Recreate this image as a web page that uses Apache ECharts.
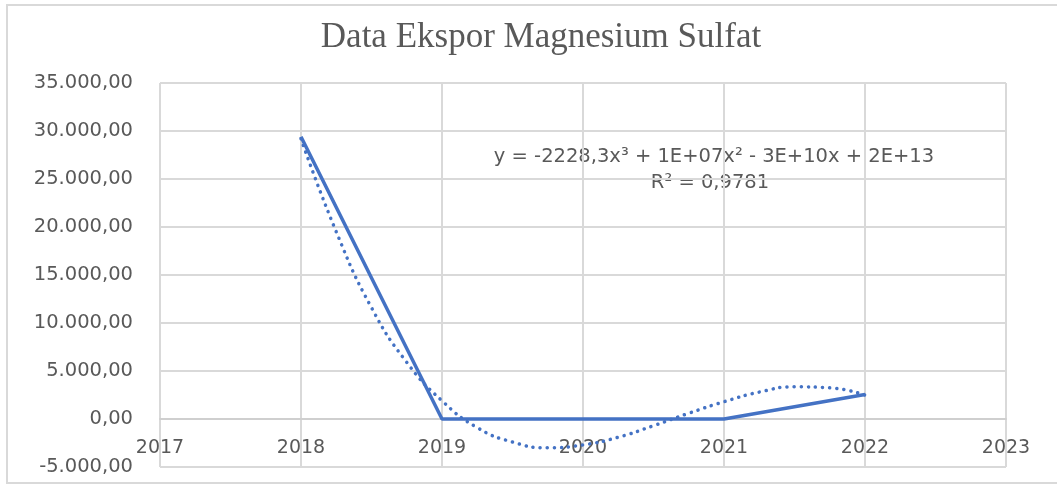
<!DOCTYPE html>
<html>
<head>
<meta charset="utf-8">
<script src="https://cdn.jsdelivr.net/npm/echarts@6/dist/echarts.min.js"></script>
<style>
  html, body { margin: 0; padding: 0; background: #fff; }
  #chart { width: 1057px; height: 486px; }
</style>
</head>
<body>
<div id="chart"></div>
<script>
// data
const years = [2018, 2019, 2020, 2021, 2022];
const ekspor = [29400, 0, 0, 0, 2550];

// dotted trend line (poly. order 3)
const trendX = [2018, 2018.25, 2018.5, 2018.75, 2019, 2019.25, 2019.5, 2019.75, 2020,
  2020.25, 2020.5, 2020.75, 2021, 2021.25, 2021.5, 2021.75, 2022];
const trendY = [29200, 19500, 11600, 5900, 1900, -900, -2400, -3000, -2700,
  -1900, -700, 600, 1800, 2800, 3350, 3250, 2500];

const titleText = "Data Ekspor Magnesium Sulfat";
const eqText = "y = -2228,3x³ + 1E+07x² - 3E+10x + 2E+13";
const r2Text = "R² = 0,9781";

const blue = "#4472C4";
const grey = "#595959";
const gridColor = "#d9d9d9";

function fmtId(v) {
  // 35000 -> 35.000,00
  const neg = v < 0;
  let s = Math.abs(v).toFixed(0).replace(/\B(?=(\d{3})+(?!\d))/g, ".");
  return (neg ? "-" : "") + s + ",00";
}

const chart = echarts.init(document.getElementById("chart"));
chart.setOption({
  animation: false,
  backgroundColor: "#fff",
  title: {
    text: titleText,
    left: 536,
    textAlign: "center",
    top: 15,
    textStyle: {
      fontFamily: "Liberation Serif",
      fontWeight: "normal",
      fontSize: 35,
      color: grey
    }
  },
  grid: { left: 160, right: 51, top: 83, bottom: 19, containLabel: false, outerBoundsMode: "none" },
  graphic: [
    {
      type: "rect",
      shape: { x: 7, y: 5, width: 1100, height: 478 },
      style: { fill: "none", stroke: "#d9d9d9", lineWidth: 2 },
      silent: true
    },
    {
      type: "text",
      style: { x: 714, y: 157, text: eqText, font: "19.5px 'DejaVu Sans'", fill: grey,
        align: "center", verticalAlign: "middle" }
    },
    {
      type: "text",
      style: { x: 710, y: 183, text: r2Text, font: "19.5px 'DejaVu Sans'", fill: grey,
        align: "center", verticalAlign: "middle" }
    }
  ],
  xAxis: {
    type: "value",
    min: 2017,
    max: 2023,
    interval: 1,
    axisLine: { onZero: true, lineStyle: { color: "#cfcfcf", width: 2 } },
    axisTick: { show: false },
    axisLabel: {
      margin: -28,
      color: grey,
      fontSize: 19,
      fontFamily: "DejaVu Sans",
      showMinLabel: true,
      showMaxLabel: true,
      hideOverlap: false,
      formatter: v => String(v)
    },
    splitLine: { show: true, lineStyle: { color: gridColor, width: 2 } }
  },
  yAxis: {
    type: "value",
    min: -5000,
    max: 35000,
    interval: 5000,
    axisLine: { show: false },
    axisTick: { show: false },
    axisLabel: {
      margin: 27,
      color: grey,
      fontSize: 19.5,
      fontFamily: "DejaVu Sans",
      formatter: fmtId
    },
    splitLine: { show: true, lineStyle: { color: gridColor, width: 2 } }
  },
  series: [
    {
      name: "Ekspor",
      type: "line",
      data: years.map((y, i) => [y, ekspor[i]]),
      showSymbol: false,
      lineStyle: { color: blue, width: 3.5 },
      z: 3
    },
    {
      name: "Poly. (Ekspor)",
      type: "line",
      smooth: true,
      data: trendX.map((x, i) => [x, trendY[i]]),
      showSymbol: false,
      lineStyle: { color: blue, width: 3.5, type: [0.1, 7], cap: "round" },
      z: 2
    }
  ]
});
</script>
</body>
</html>
